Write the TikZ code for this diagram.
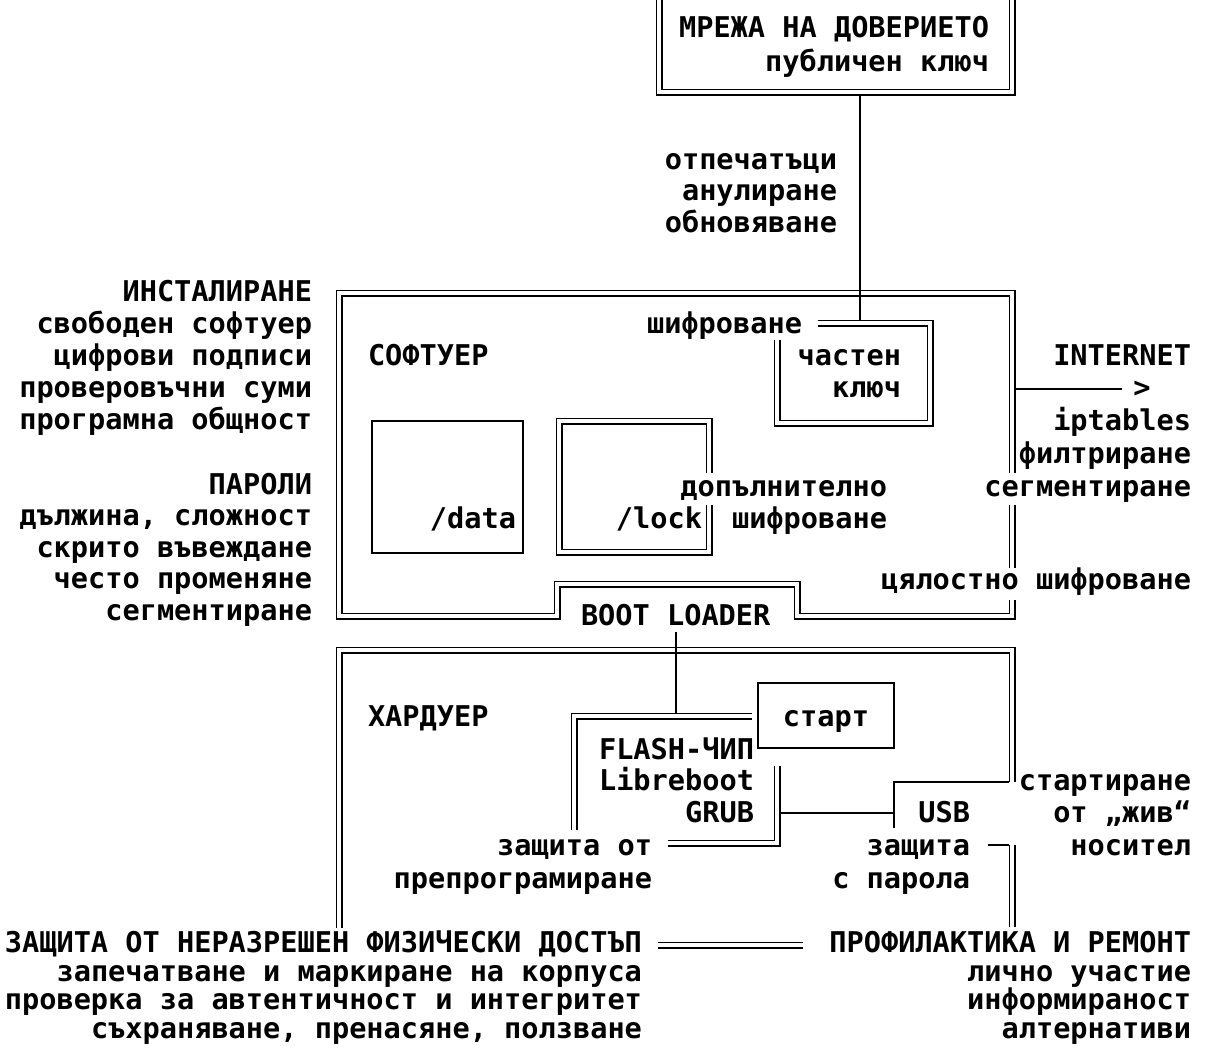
\documentclass[tikz,border=0pt]{standalone}
\usepackage{fontspec}
\setmonofont{DejaVu Sans Mono}[BoldFont={DejaVu Sans Mono Bold}]
\usetikzlibrary{positioning}
\tikzset{
  lbl/.style={inner sep=0pt, outer sep=0pt, align=right, font=\ttfamily\bfseries\fontsize{14.3}{#1}\selectfont},
  lbl/.default=15.9,
  dbl/.style={draw, double, double distance=1.6pt, line width=0.95pt, line cap=butt, line join=miter},
  sgl/.style={draw, line width=0.95pt, line join=miter},
  box/.style={draw, line width=0.95pt}
}
\begin{document}
\begin{tikzpicture}[x=0.5pt,y=-0.5pt]
  \useasboundingbox (0,0) rectangle (1208,1057);
  \node[lbl=17, anchor=base east] (wot) at (989,71) {МРЕЖА НА ДОВЕРИЕТО\\публичен ключ};
  \node[lbl=15.75, anchor=base east] (ops) at (837,232) {отпечатъци\\анулиране\\обновяване};
  \node[lbl, anchor=base east] (inst) at (312,429) {ИНСТАЛИРАНЕ\\свободен софтуер\\цифрови подписи\\проверовъчни суми\\програмна общност};
  \node[lbl=15.75, anchor=base east] (pwd) at (312,620) {ПАРОЛИ\\дължина, сложност\\скрито въвеждане\\често променяне\\сегментиране};
  \node[lbl, anchor=base east] (enc) at (802,333) {шифроване};
  \node[lbl, anchor=base west] (sw) at (368,365) {СОФТУЕР};
  \node[lbl=16, anchor=base east] (pk) at (901,397) {частен\\ключ};
  \node[lbl, anchor=base east] (inet) at (1191,365) {INTERNET};
  \node[lbl, anchor=base] (gt) at (1142,397) {>};
  \node[lbl=16.5, anchor=base east] (ipt) at (1191,496) {iptables\\филтриране\\сегментиране};
  \node[lbl, anchor=base east] (data) at (516,528) {/data};
  \node[lbl, anchor=base east] (lock) at (702,528) {/lock};
  \node[lbl=16, anchor=base east] (xenc) at (887,528) {допълнително\\шифроване};
  \node[lbl, anchor=base east] (fde) at (1191,589) {цялостно шифроване};
  \node[lbl, anchor=base west] (boot) at (581,625) {BOOT LOADER};
  \node[lbl, anchor=base west] (hw) at (368,726) {ХАРДУЕР};
  \node[lbl, box, text height=10.5pt, text depth=0pt, minimum width=68pt, minimum height=32.5pt] (start) at (826,715.5) {старт};
  \node[lbl=15.75, anchor=base east] (flash) at (754,822) {FLASH-ЧИП\\Libreboot\\GRUB};
  \node[lbl=16.25, anchor=base east] (live) at (1191,855) {стартиране\\от „жив“\\носител};
  \node[lbl=16.5, anchor=base east] (usb) at (970,888) {USB\\защита\\с парола};
  \node[lbl=16.5, anchor=base east] (repr) at (652,888) {защита от\\препрограмиране};
  \node[lbl=14.25, anchor=base east] (phys) at (642,1038) {ЗАЩИТА ОТ НЕРАЗРЕШЕН ФИЗИЧЕСКИ ДОСТЪП\\запечатване и маркиране на корпуса\\проверка за автентичност и интегритет\\съхраняване, пренасяне, ползване};
  \node[lbl=14.25, anchor=base east] (care) at (1191,1038) {ПРОФИЛАКТИКА И РЕМОНТ\\лично участие\\информираност\\алтернативи};

  \draw[dbl] (659,0) |- (1012,92) -- (1012,0);
  \draw[dbl] (1012,473) -- (1012,293) -- (339,293) -- (339,616) -| (557,584) -| (797,616) -| (1012,600);
  \draw[dbl] (1012,505) -- (1012,568);
  \draw[dbl] (818,323) -| (930,423) -| (777,340);
  \draw[box] (372,421) rectangle (523,553);
  \draw[dbl] (709,473) |- (559,421) |- (709,552) -- (709,505);
  \draw[dbl] (1012,782) -- (1012,650) -- (339,650) -- (339,928);
  \draw[dbl] (1012,845) -- (1012,927);
  \draw[dbl] (752,716) -| (574,830);
  \draw[dbl] (777,766) |- (668,843);

  \coordinate (tb) at (860,95.5);
  \coordinate (kt) at (860,319.5);
  \coordinate (ir) at (1015.5,389);
  \coordinate (ia) at (1122,389);
  \coordinate (bb) at (676,632);
  \coordinate (ft) at (676,712.5);
  \coordinate (gr) at (780.5,813);
  \coordinate (ub) at (894,813);
  \coordinate (uc) at (894,782);
  \coordinate (hr) at (1008.5,782);
  \coordinate (pl) at (988,845);
  \coordinate (pr) at (1008.5,845);
  \coordinate (ml) at (658,945);
  \coordinate (mr) at (803,945);
  \draw[sgl] (tb) -- (kt);
  \draw[sgl] (ir) -- (ia);
  \draw[sgl] (bb) -- (ft);
  \draw[sgl] (gr) -- (ub);
  \draw[sgl] (894,828) -- (uc) -- (hr);
  \draw[sgl] (pl) -- (pr);
  \draw[dbl] (ml) -- (mr);
\end{tikzpicture}
\end{document}
